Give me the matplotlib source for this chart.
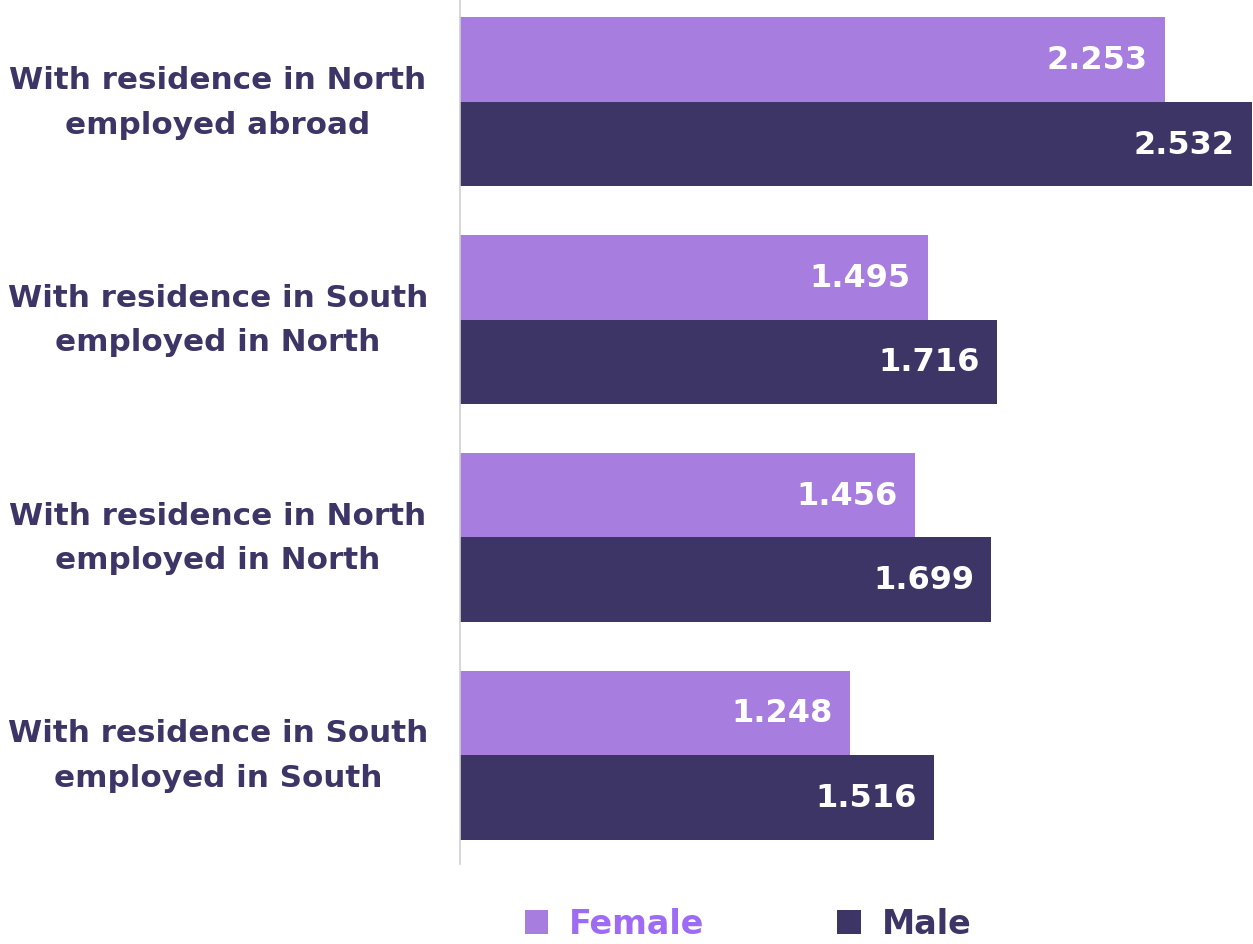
import matplotlib
matplotlib.use("Agg")
import matplotlib.pyplot as plt
import numpy as np

categories = ["With residence in North\nemployed abroad",
              "With residence in South\nemployed in North",
              "With residence in North\nemployed in North",
              "With residence in South\nemployed in South"]
female = [2.253, 1.495, 1.456, 1.248]
male = [2.532, 1.716, 1.699, 1.516]
series_names = ["Female", "Male"]

c_female = "#A77DDF"
c_male = "#3D3566"
c_female_text = "#9E6BF5"

plt.rcParams['font.family'] = ['DejaVu Sans']

W, H = 1253, 945
fig = plt.figure(figsize=(W/100, H/100), dpi=100)
ax = fig.add_axes([460/W, (H-865)/H, (1253-460)/W, (865+6)/H])

y = np.arange(len(categories))
bh = 0.388
bf = ax.barh(y - bh/2, female, height=bh, color=c_female, label=series_names[0])
bm = ax.barh(y + bh/2, male, height=bh, color=c_male, label=series_names[1])

for bars, vals in ((bf, female), (bm, male)):
    for b, v in zip(bars, vals):
        ax.text(v - 0.056, b.get_y() + b.get_height()/2, f"{v:.3f}",
                ha='right', va='center', color='white', fontsize=23,
                fontweight='bold')

ax.set_xlim(0, 2.535)
ax.set_ylim(len(categories) - 0.5, -0.5)
ax.set_yticks(y)
ax.set_yticklabels(categories, ha='center', va='center',
                   multialignment='center',
                   fontsize=22.3, fontweight='bold', color=c_male,
                   linespacing=1.68)
ax.tick_params(axis='y', length=0, pad=(460-218)*0.72)
ax.set_xticks([])
for s in ['top', 'right', 'bottom']:
    ax.spines[s].set_visible(False)
ax.spines['left'].set_color('#D0D0D0')
ax.spines['left'].set_linewidth(1.2)

# legend
leg = fig.legend(handles=[bf, bm], labels=series_names, loc='center',
                 bbox_to_anchor=(748/W, (H-925)/H), ncol=2, frameon=False,
                 handlelength=0.7, handleheight=0.7,
                 columnspacing=4.0, handletextpad=0.62,
                 prop={'weight': 'bold', 'size': 24})
for t, c in zip(leg.get_texts(), [c_female_text, c_male]):
    t.set_color(c)

fig.savefig("out.png", dpi=100)
